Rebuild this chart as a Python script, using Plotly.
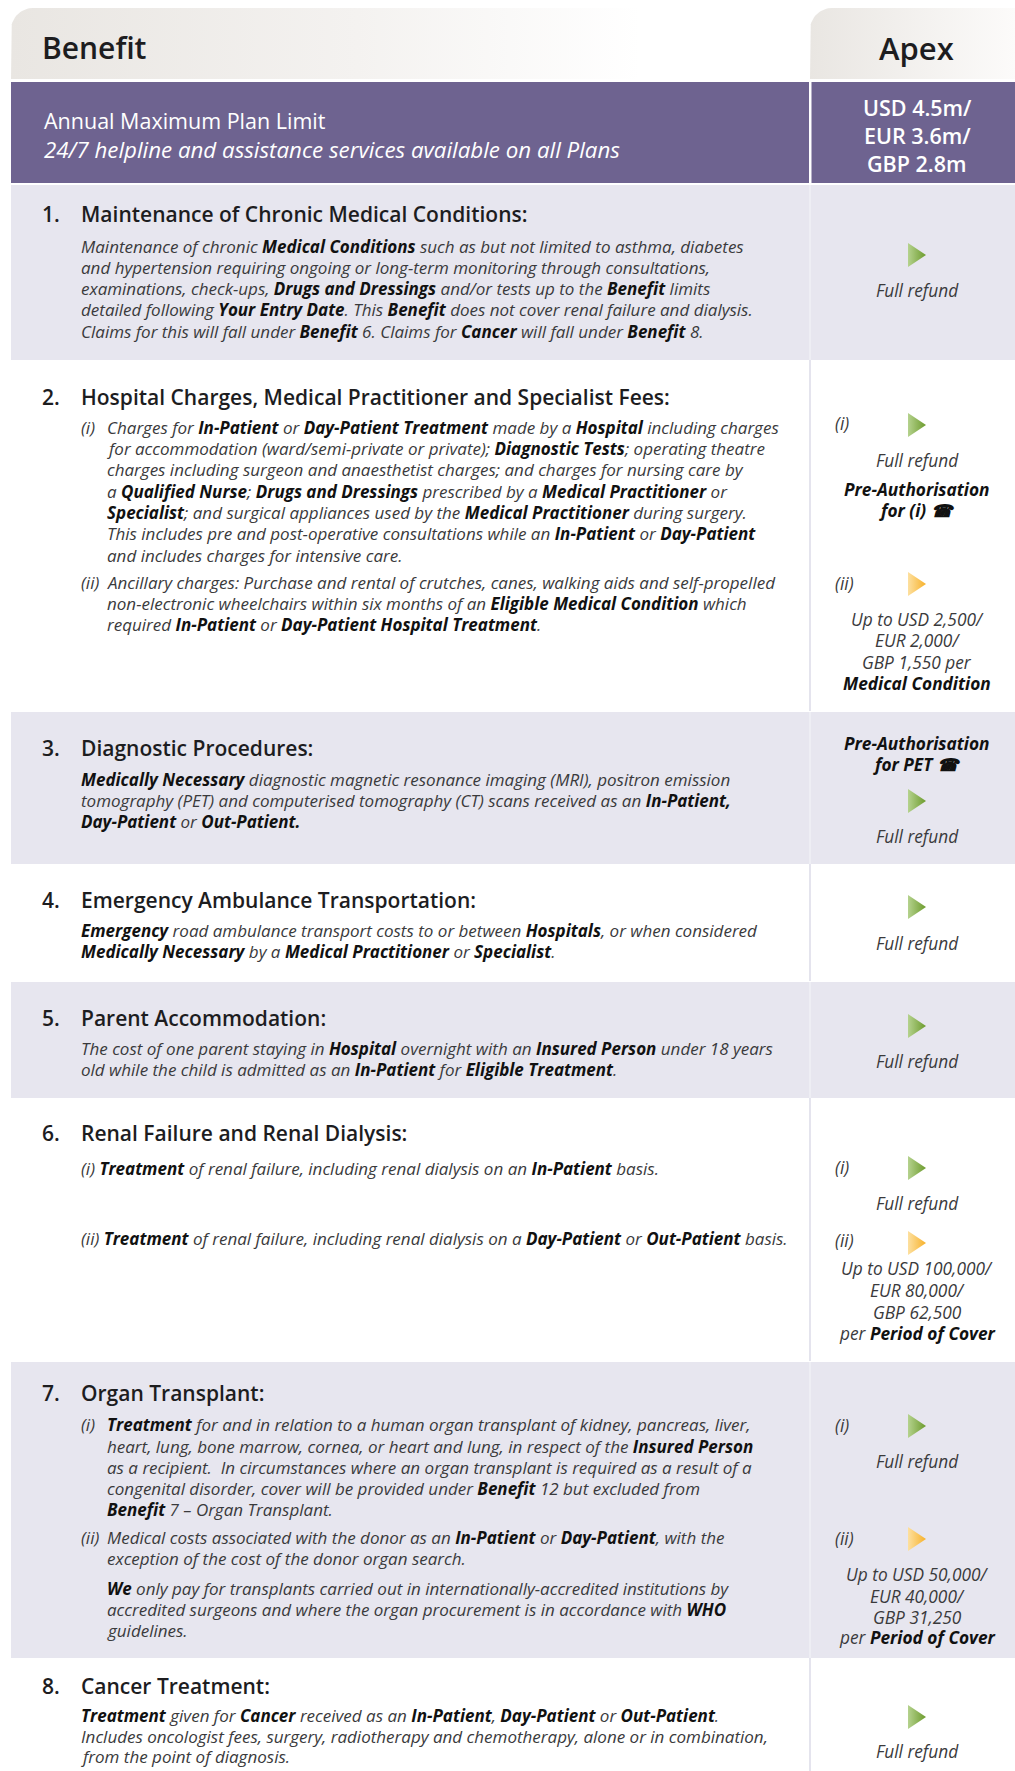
import plotly.graph_objects as go
import math

W, H = 1015, 1771

# ------------------------------------------------------------------ content
header_left = "Benefit"
header_right = "Apex"
plan_limit_title = "Annual Maximum Plan Limit"
plan_limit_note = "24/7 helpline and assistance services available on all Plans"
plan_limit_values = ["USD 4.5m/", "EUR 3.6m/", "GBP 2.8m"]

benefit_numbers = ["1.", "2.", "3.", "4.", "5.", "6.", "7.", "8."]
benefit_titles = [
    "Maintenance of Chronic Medical Conditions:",
    "Hospital Charges, Medical Practitioner and Specialist Fees:",
    "Diagnostic Procedures:",
    "Emergency Ambulance Transportation:",
    "Parent Accommodation:",
    "Renal Failure and Renal Dialysis:",
    "Organ Transplant:",
    "Cancer Treatment:",
]

# each description line: (paragraph label, text) ; **x** marks bold terms
benefit_text = [
    [("", "Maintenance of chronic **Medical Conditions** such as but not limited to asthma, diabetes"),
     ("", "and hypertension requiring ongoing or long-term monitoring through consultations,"),
     ("", "examinations, check-ups, **Drugs and Dressings** and/or tests up to the **Benefit** limits"),
     ("", "detailed following **Your Entry Date**. This **Benefit** does not cover renal failure and dialysis."),
     ("", "Claims for this will fall under **Benefit** 6. Claims for **Cancer** will fall under **Benefit** 8.")],
    [("(i)", "Charges for **In-Patient** or **Day-Patient Treatment** made by a **Hospital** including charges"),
     ("-", "for accommodation (ward/semi-private or private); **Diagnostic Tests**; operating theatre"),
     ("-", "charges including surgeon and anaesthetist charges; and charges for nursing care by"),
     ("-", "a **Qualified Nurse**; **Drugs and Dressings** prescribed by a **Medical Practitioner** or"),
     ("-", "**Specialist**; and surgical appliances used by the **Medical Practitioner** during surgery."),
     ("-", "This includes pre and post-operative consultations while an **In-Patient** or **Day-Patient**"),
     ("-", "and includes charges for intensive care."),
     ("(ii)", "Ancillary charges: Purchase and rental of crutches, canes, walking aids and self-propelled"),
     ("-", "non-electronic wheelchairs within six months of an **Eligible Medical Condition** which"),
     ("-", "required **In-Patient** or **Day-Patient Hospital Treatment**.")],
    [("", "**Medically Necessary** diagnostic magnetic resonance imaging (MRI), positron emission"),
     ("", "tomography (PET) and computerised tomography (CT) scans received as an **In-Patient,**"),
     ("", "**Day-Patient** or **Out-Patient.**")],
    [("", "**Emergency** road ambulance transport costs to or between **Hospitals**, or when considered"),
     ("", "**Medically Necessary** by a **Medical Practitioner** or **Specialist**.")],
    [("", "The cost of one parent staying in **Hospital** overnight with an **Insured Person** under 18 years"),
     ("", "old while the child is admitted as an **In-Patient** for **Eligible Treatment**.")],
    [("", "(i) **Treatment** of renal failure, including renal dialysis on an **In-Patient** basis."),
     ("", "(ii) **Treatment** of renal failure, including renal dialysis on a **Day-Patient** or **Out-Patient** basis.")],
    [("(i)", "**Treatment** for and in relation to a human organ transplant of kidney, pancreas, liver,"),
     ("-", "heart, lung, bone marrow, cornea, or heart and lung, in respect of the **Insured Person**"),
     ("-", "as a recipient.  In circumstances where an organ transplant is required as a result of a"),
     ("-", "congenital disorder, cover will be provided under **Benefit** 12 but excluded from"),
     ("-", "**Benefit** 7 \u2013 Organ Transplant."),
     ("(ii)", "Medical costs associated with the donor as an **In-Patient** or **Day-Patient**, with the"),
     ("-", "exception of the cost of the donor organ search."),
     ("-", "**We** only pay for transplants carried out in internationally-accredited institutions by"),
     ("-", "accredited surgeons and where the organ procurement is in accordance with **WHO**"),
     ("-", "guidelines.")],
    [("", "**Treatment** given for **Cancer** received as an **In-Patient**, **Day-Patient** or **Out-Patient**."),
     ("", "Includes oncologist fees, surgery, radiotherapy and chemotherapy, alone or in combination,"),
     ("", "from the point of diagnosis.")],
]

# Apex column: ("tri_full" | "tri_limit" | "label" | "text", content)
apex_cells = [
    [("tri_full", ""), ("text", "Full refund")],
    [("label", "(i)"), ("tri_full", ""), ("text", "Full refund"),
     ("text", "**Pre-Authorisation**"), ("text", "**for (i) \u260e**"),
     ("label", "(ii)"), ("tri_limit", ""), ("text", "Up to USD 2,500/"), ("text", "EUR 2,000/"),
     ("text", "GBP 1,550 per"), ("text", "**Medical Condition**")],
    [("text", "**Pre-Authorisation**"), ("text", "**for PET \u260e**"), ("tri_full", ""), ("text", "Full refund")],
    [("tri_full", ""), ("text", "Full refund")],
    [("tri_full", ""), ("text", "Full refund")],
    [("label", "(i)"), ("tri_full", ""), ("text", "Full refund"),
     ("label", "(ii)"), ("tri_limit", ""), ("text", "Up to USD 100,000/"), ("text", "EUR 80,000/"),
     ("text", "GBP 62,500"), ("text", "per **Period of Cover**")],
    [("label", "(i)"), ("tri_full", ""), ("text", "Full refund"),
     ("label", "(ii)"), ("tri_limit", ""), ("text", "Up to USD 50,000/"), ("text", "EUR 40,000/"),
     ("text", "GBP 31,250"), ("text", "per **Period of Cover**")],
    [("tri_full", ""), ("text", "Full refund")],
]

# ------------------------------------------------------------------ layout (pixels)
row_edges = [184, 360, 711, 864, 981, 1098, 1361, 1658, 1771]
row_shaded = [True, False, True, False, True, False, True, False]
title_y = [214, 397, 748, 900, 1018, 1133, 1393, 1686]
text_y = [
    [246, 267, 288, 309, 331],
    [427, 448, 469, 491, 512, 533, 555, 582, 603, 624],
    [779, 800, 821],
    [930, 951],
    [1048, 1069],
    [1168, 1238],
    [1424, 1446, 1467, 1488, 1509, 1537, 1558, 1588, 1609, 1630],
    [1715, 1736, 1756],
]
apex_y = [
    [255, 290],
    [423, 425, 460, 489, 510, 583, 584, 619, 640, 662, 683],
    [743, 764, 801, 836],
    [907, 943],
    [1026, 1061],
    [1167, 1168, 1203, 1240, 1243, 1268, 1290, 1312, 1333],
    [1425, 1426, 1461, 1538, 1539, 1574, 1596, 1617, 1637],
    [1717, 1751],
]

X_LEFT = 11
X_DIV = 810
X_NUM = 39.5
X_TEXT = 79
X_INDENT = 105
X_APEX = 917
X_APEX_LABEL = 833

PURPLE = "#6e6390"
SHADE = "#e7e6ef"
DARK = "#1d1d1f"
BODY = "#3a3a3c"
FONT = "Open Sans"
BODY_SIZE = 17
APEX_SIZE = 17.3


def md(s, bold_color="#111111"):
    parts = s.split("**")
    out = ""
    for i, p in enumerate(parts):
        out += f"<span style='color:{bold_color}'><b>{p}</b></span>" if i % 2 else p
    return out


fig = go.Figure()
shapes = []
annotations = []


def tab(x0, x1, y0, y1, r, colors):
    xs, ys = [x0], [y1]
    for k in range(0, 19):
        a = math.pi - k * (math.pi / 2) / 18
        xs.append(x0 + r + r * math.cos(a))
        ys.append(y0 + r - r * math.sin(a))
    xs += [x1, x1, x0]
    ys += [y0, y1, y1]
    fig.add_trace(go.Scatter(x=xs, y=ys, mode="lines", fill="toself",
                             line=dict(width=0, color="rgba(0,0,0,0)"),
                             fillgradient=dict(type="horizontal", colorscale=colors),
                             hoverinfo="skip", showlegend=False))


tab(X_LEFT, 640, 8, 79, 22, [[0, "#e9e6e2"], [0.55, "#f4f2f0"], [1, "#ffffff"]])
tab(X_DIV, W, 8, 79, 22, [[0, "#e9e6e2"], [1, "#fcfbfa"]])

# purple band
shapes.append(dict(type="rect", xref="x", yref="y", x0=X_LEFT, x1=X_DIV - 1, y0=82, y1=183,
                   fillcolor=PURPLE, line=dict(width=0), layer="below"))
shapes.append(dict(type="rect", xref="x", yref="y", x0=X_DIV + 1.5, x1=W, y0=82, y1=183,
                   fillcolor=PURPLE, line=dict(width=0), layer="below"))

# rows
for i in range(len(benefit_titles)):
    y0, y1 = row_edges[i], row_edges[i + 1]
    if row_shaded[i]:
        shapes.append(dict(type="rect", xref="x", yref="y", x0=X_LEFT, x1=W, y0=y0 + 1, y1=y1,
                           fillcolor=SHADE, line=dict(width=0), layer="below"))
        shapes.append(dict(type="line", xref="x", yref="y", x0=X_DIV, x1=X_DIV, y0=y0 + 1, y1=y1,
                           line=dict(color="#f3f3f7", width=1.2), layer="below"))
    else:
        shapes.append(dict(type="line", xref="x", yref="y", x0=X_DIV, x1=X_DIV, y0=y0, y1=y1,
                           line=dict(color="#d3d2e2", width=1.2), layer="below"))


def ann(x, y, text, size, color, anchor="left", weight="normal", style="normal", family=FONT):
    annotations.append(dict(x=x, y=y, xref="x", yref="y", text=text, showarrow=False,
                            xanchor=anchor, yanchor="middle", align=anchor if anchor != "center" else "center",
                            font=dict(family=family, size=size, color=color, weight=weight, style=style)))


# header
ann(X_NUM, 47, header_left, 30, DARK, weight=600)
ann(X_APEX - 1, 48, header_right, 31, DARK, anchor="center", weight=600)
ann(42, 120, plan_limit_title, 21.5, "#ffffff", weight=500)
ann(42, 149, f"<i>{plan_limit_note}</i>", 22.3, "#ffffff", weight=500)
for v, yy in zip(plan_limit_values, [107, 135, 163]):
    ann(X_APEX, yy, v, 21.5, "#ffffff", anchor="center", weight=600)

# benefits
for i in range(len(benefit_titles)):
    ann(X_NUM, title_y[i], benefit_numbers[i], 21, DARK, weight=600)
    ann(X_TEXT, title_y[i], benefit_titles[i], 21, DARK, weight=600)
    for (lab, txt), yy in zip(benefit_text[i], text_y[i]):
        if lab in ("(i)", "(ii)"):
            ann(X_TEXT, yy, f"<i>{lab}</i>", BODY_SIZE, BODY)
        x = X_INDENT if lab else X_TEXT
        ann(x, yy, "<i>" + md(txt) + "</i>", BODY_SIZE, BODY)
    for (kind, content), yy in zip(apex_cells[i], apex_y[i]):
        if kind == "text":
            ann(X_APEX, yy, "<i>" + md(content) + "</i>", APEX_SIZE, BODY, anchor="center")
        elif kind == "label":
            ann(X_APEX_LABEL, yy, f"<i>{content}</i>", APEX_SIZE, BODY)
        else:
            cs = ([[0, "#b5d28e"], [1, "#6c9b2c"]] if kind == "tri_full"
                  else [[0, "#fde0a0"], [1, "#f7b12a"]])
            fig.add_trace(go.Scatter(x=[X_APEX - 9, X_APEX + 9, X_APEX - 9, X_APEX - 9],
                                     y=[yy - 12, yy, yy + 12, yy - 12], mode="lines", fill="toself",
                                     line=dict(width=0, color="rgba(0,0,0,0)"),
                                     fillgradient=dict(type="horizontal", colorscale=cs),
                                     hoverinfo="skip", showlegend=False))

fig.update_layout(
    width=W, height=H, margin=dict(l=0, r=0, t=0, b=0),
    paper_bgcolor="#ffffff", plot_bgcolor="#ffffff",
    xaxis=dict(range=[0, W], visible=False, fixedrange=True),
    yaxis=dict(range=[H, 0], visible=False, fixedrange=True),
    shapes=shapes, annotations=annotations, showlegend=False,
)
fig.write_html("out.html", config={"staticPlot": True},
               post_script="document.body.style.margin='0';document.body.style.padding='0';"
                           "document.documentElement.style.overflow='hidden';")
